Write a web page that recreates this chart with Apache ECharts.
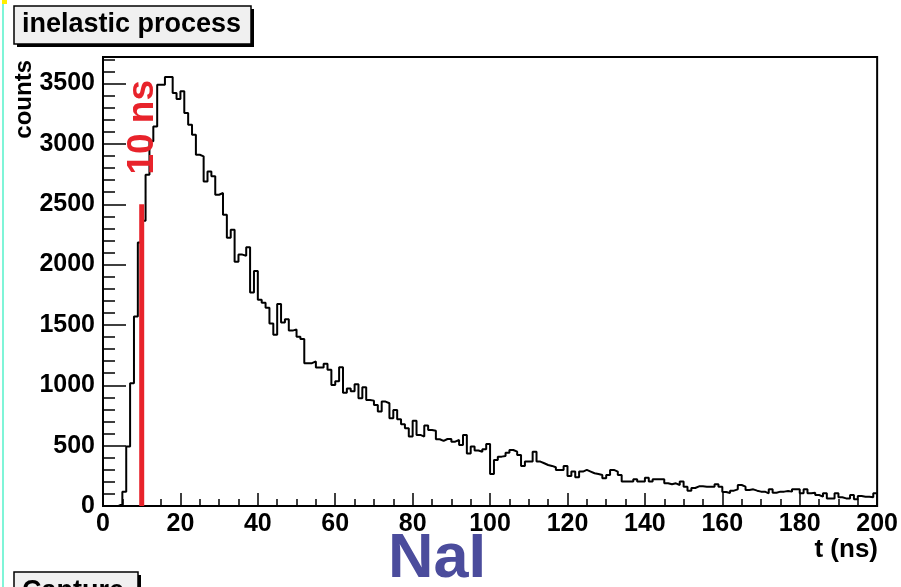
<!DOCTYPE html>
<html>
<head>
<meta charset="utf-8">
<script src="https://cdn.jsdelivr.net/npm/echarts@6/dist/echarts.min.js"></script>
<style>
  html, body { margin: 0; padding: 0; background: #ffffff; }
  #chart { width: 901px; height: 587px; }
</style>
</head>
<body>
<div id="chart"></div>
<script>
// Time histogram of the inelastic-process signal, 1 ns bins from 0 to 200 ns.
const binWidth = 1;
const tMin = 0;
const tMax = 200;
const counts = [
  0, 0, 0, 0, 15, 119, 492, 1017, 1570, 2183,
  2363, 2745, 3021, 3145, 3491, 3491, 3555, 3555, 3422, 3372,
  3436, 3256, 3159, 3076, 2910, 2897, 2689, 2772, 2731, 2579,
  2593, 2413, 2223, 2288, 2023, 2083, 2073, 2143, 1768, 1948,
  1708, 1683, 1643, 1513, 1418, 1673, 1520, 1548, 1453, 1463,
  1403, 1383, 1183, 1183, 1198, 1148, 1148, 1178, 1128, 1003,
  1033, 1150, 939, 973, 950, 1009, 893, 984, 879, 873,
  837, 782, 865, 851, 727, 796, 718, 677, 644, 575,
  707, 589, 575, 666, 630, 624, 553, 539, 555, 555,
  533, 547, 506, 589, 436, 492, 460, 450, 470, 514,
  265, 381, 409, 414, 442, 464, 450, 423, 332, 368,
  368, 450, 368, 354, 340, 332, 321, 299, 299, 332,
  249, 285, 238, 285, 299, 285, 271, 265, 257, 229,
  257, 299, 285, 257, 202, 202, 202, 221, 202, 202,
  235, 202, 221, 221, 221, 188, 180, 188, 174, 202,
  160, 127, 149, 163, 163, 160, 160, 160, 180, 160,
  116, 108, 127, 138, 174, 160, 133, 138, 127, 119,
  119, 105, 138, 110, 119, 119, 124, 119, 138, 138,
  105, 138, 105, 110, 91, 77, 105, 63, 63, 105,
  72, 63, 63, 91, 55, 83, 77, 77, 72, 105
];

// Axis ranges and tick steps
const yMax = 3720;
const xMajorStep = 20;
const xMinorParts = 4;
const yMajorStep = 500;
const yMinorStep = 100;

// Timing cut marker
const cutTime = 10;
const cutHeight = 2500;
const cutLabel = '10 ns';

// Texts
const titleText = 'inelastic process';
const nextPadTitle = 'Capture';
const detectorName = 'NaI';
const xTitle = 't (ns)';
const yTitle = 'counts';

const FONT = '"Liberation Sans", Arial, Helvetica, sans-serif';

// Histogram outline: one point per bin low edge plus the closing upper edge
const histPoints = counts.map((v, i) => [tMin + i * binWidth, v]);
histPoints.push([tMax, counts[counts.length - 1]]);

const cutPoints = [[cutTime, 0], [cutTime, cutHeight]];

const chart = echarts.init(document.getElementById('chart'), null, { renderer: 'canvas' });

const labelStyle = {
  color: '#000',
  fontFamily: FONT,
  fontWeight: 'bold',
  fontSize: 25,
  formatter: (v) => String(v)
};

chart.setOption({
  animation: false,
  backgroundColor: '#ffffff',
  grid: {
    left: 103, right: 23, top: 57, bottom: 81,
    show: true,
    borderColor: '#000',
    borderWidth: 2,
    backgroundColor: 'transparent'
  },
  xAxis: {
    type: 'value',
    min: tMin,
    max: tMax,
    interval: xMajorStep,
    axisLine: { show: true, lineStyle: { color: '#000', width: 2 } },
    axisTick: { show: true, inside: true, length: 13, lineStyle: { color: '#000', width: 1.5 } },
    minorTick: { show: true, splitNumber: xMinorParts, length: 7, lineStyle: { color: '#000', width: 1.5 } },
    axisLabel: Object.assign({ margin: 6, showMinLabel: true, showMaxLabel: true }, labelStyle),
    splitLine: { show: false },
    minorSplitLine: { show: false }
  },
  yAxis: [
    {
      type: 'value',
      position: 'left',
      min: 0,
      max: yMax,
      interval: yMajorStep,
      axisLine: { show: true, lineStyle: { color: '#000', width: 2 } },
      axisTick: { show: true, inside: true, length: 23, lineStyle: { color: '#000', width: 1.5 } },
      axisLabel: Object.assign({ margin: 8, showMaxLabel: false }, labelStyle),
      splitLine: { show: false }
    },
    {
      type: 'value',
      position: 'left',
      min: 0,
      max: yMax,
      interval: yMinorStep,
      axisLine: { show: false },
      axisTick: { show: true, inside: true, length: 12, lineStyle: { color: '#000', width: 1.5 } },
      axisLabel: { show: false },
      splitLine: { show: false }
    }
  ],
  series: [
    {
      name: 'hist',
      type: 'line',
      step: 'end',
      data: histPoints,
      symbol: 'none',
      yAxisIndex: 0,
      lineStyle: { color: '#000', width: 2 },
      z: 3
    },
    {
      name: 'cut',
      type: 'line',
      data: cutPoints,
      symbol: 'none',
      yAxisIndex: 0,
      lineStyle: { color: '#e8232b', width: 5, cap: 'butt' },
      z: 4
    }
  ]
});

// Annotation layer: title boxes, axis titles and the marker caption
const cutTop = chart.convertToPixel({ xAxisIndex: 0, yAxisIndex: 0 }, [cutTime, cutHeight]);

function titleBox(x, y, w, h, text, baselineY) {
  return [
    { type: 'rect', shape: { x: x + 3, y: y + 3, width: w, height: h }, style: { fill: '#000' }, z: 10 },
    { type: 'rect', shape: { x: x, y: y, width: w, height: h }, style: { fill: '#f0f0f0', stroke: '#000', lineWidth: 1.5 }, z: 11 },
    { type: 'text', x: x + 8, y: baselineY, style: { text: text, fill: '#000', font: 'bold 27px ' + FONT, textAlign: 'left', textVerticalAlign: 'middle' }, z: 12 }
  ];
}

chart.setOption({
  graphic: [
    { type: 'rect', shape: { x: 2, y: 0, width: 2, height: 587 }, style: { fill: '#7ff5d8' }, z: 1 },
    { type: 'rect', shape: { x: 2, y: 0, width: 5, height: 4 }, style: { fill: '#ffee00' }, z: 1 },
    ...titleBox(14, 6, 237, 38, titleText, 25),
    ...titleBox(14, 572, 124, 40, nextPadTitle, 592),
    {
      type: 'text', x: 24, y: 60, rotation: Math.PI / 2,
      style: { text: yTitle, fill: '#000', font: 'bold 24px ' + FONT, textAlign: 'right', textVerticalAlign: 'middle' },
      z: 12
    },
    {
      type: 'text', x: 878, y: 550,
      style: { text: xTitle, fill: '#000', font: 'bold 26px ' + FONT, textAlign: 'right', textVerticalAlign: 'middle' },
      z: 12
    },
    {
      type: 'text', x: 437, y: 560,
      style: { text: detectorName, fill: '#4b4c9c', font: 'bold 63px ' + FONT, textAlign: 'center', textVerticalAlign: 'middle' },
      z: 12
    },
    {
      type: 'text', x: cutTop[0] + 1, y: 80, rotation: Math.PI / 2,
      style: { text: cutLabel, fill: '#e8232b', font: 'bold 37px ' + FONT, textAlign: 'right', textVerticalAlign: 'middle' },
      z: 12
    }
  ]
});
</script>
</body>
</html>
